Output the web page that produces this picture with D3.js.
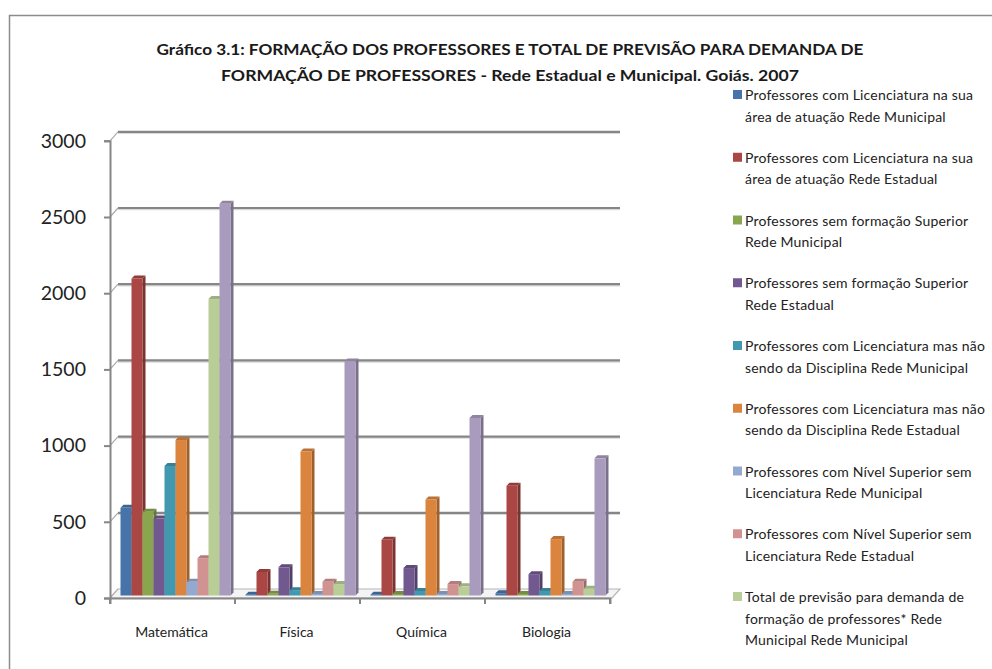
<!DOCTYPE html>
<html><head><meta charset="utf-8">
<script src="https://cdn.jsdelivr.net/npm/d3@7"></script>
<style>body{margin:0;background:#fff;overflow:hidden}svg{display:block}</style>
</head><body>
<svg id="c" width="992" height="669"></svg>
<script>
const categories = ["Matemática", "Física", "Química", "Biologia"];
const seriesNames = [
  "Professores com Licenciatura na sua área de atuação Rede Municipal",
  "Professores com Licenciatura na sua área de atuação Rede Estadual",
  "Professores sem formação Superior Rede Municipal",
  "Professores sem formação Superior Rede Estadual",
  "Professores com Licenciatura mas não sendo da Disciplina Rede Municipal",
  "Professores com Licenciatura mas não sendo da Disciplina Rede Estadual",
  "Professores com Nível Superior sem Licenciatura Rede Municipal",
  "Professores com Nível Superior sem Licenciatura Rede Estadual",
  "Total de previsão para demanda de formação de professores* Rede Municipal Rede Municipal",
  "Total de previsão para demanda de formação de professores* Rede Estadual"
];
// values per series, in category order
const licMunicipal    = [575, 5, 5, 15];
const licEstadual     = [2080, 155, 365, 720];
const semSupMunicipal = [550, 12, 10, 10];
const semSupEstadual  = [505, 185, 180, 140];
const naoDiscMunicipal= [850, 35, 30, 30];
const naoDiscEstadual = [1020, 945, 630, 370];
const nivSupMunicipal = [90, 10, 10, 10];
const nivSupEstadual  = [245, 90, 75, 90];
const totalMunicipal  = [1945, 75, 60, 45];
const totalEstadual   = [2570, 1535, 1165, 900];
const seriesValues = [licMunicipal, licEstadual, semSupMunicipal, semSupEstadual,
  naoDiscMunicipal, naoDiscEstadual, nivSupMunicipal, nivSupEstadual, totalMunicipal, totalEstadual];
const yTicks = [0, 500, 1000, 1500, 2000, 2500, 3000];
const titleLines = [
  "Gráfico 3.1: FORMAÇÃO DOS PROFESSORES E TOTAL DE PREVISÃO PARA DEMANDA DE",
  "FORMAÇÃO DE PROFESSORES - Rede Estadual e Municipal. Goiás. 2007"
];
const legendLines = [
  ["Professores com Licenciatura na sua", "área de atuação Rede Municipal"],
  ["Professores com Licenciatura na sua", "área de atuação Rede Estadual"],
  ["Professores sem formação Superior", "Rede Municipal"],
  ["Professores sem formação Superior", "Rede Estadual"],
  ["Professores com Licenciatura mas não", "sendo da Disciplina Rede Municipal"],
  ["Professores com Licenciatura mas não", "sendo da Disciplina Rede Estadual"],
  ["Professores com Nível Superior sem", "Licenciatura Rede Municipal"],
  ["Professores com Nível Superior sem", "Licenciatura Rede Estadual"],
  ["Total de previsão para demanda de", "formação de professores* Rede", "Municipal Rede Municipal"]
];
const colors = ["#4674AA", "#AA4643", "#89A54E", "#71588F", "#4198AF", "#DB843D", "#93A9CF", "#D19392", "#B9CD96", "#A99BBD"];

const svg = d3.select("#c");
const FONT = "Lato, 'Open Sans', sans-serif";
const axisCol = "#868686";

// outer frame
svg.append("path").attr("d", "M9.5,669 L9.5,15.5 L992,15.5").attr("fill", "none").attr("stroke", "#8c8c8c").attr("stroke-width", 1.5);

// title
svg.append("g").selectAll("text").data(titleLines).join("text")
  .attr("x", 510).attr("y", (d, i) => 55 + i * 26)
  .attr("text-anchor", "middle").attr("font-family", FONT).attr("font-weight", "bold")
  .attr("font-size", 14.5).attr("fill", "#1a1a1a")
  .attr("textLength", (d, i) => i === 0 ? 707 : 578).attr("lengthAdjust", "spacingAndGlyphs")
  .text(d => d);

// scales
const x = d3.scaleBand().domain(categories).range([110, 610]).padding(0);
const inner = d3.scaleBand().domain(d3.range(seriesValues.length)).range([7.5, 117.5]).padding(0);
const y = d3.scaleLinear().domain([0, 3000]).range([598, 140.8]);
const DX = 8, DY = 9; // back wall depth offset
const bdx = 3, bdy = 2.5, cap = 3; // bar depth offset and thickness

// gridlines on back wall with diagonal connectors
const grid = svg.append("g");
yTicks.forEach(t => {
  const yy = y(t);
  if (t > 0) {
    grid.append("line").attr("x1", 118).attr("x2", 620).attr("y1", yy - DY + 1.5).attr("y2", yy - DY + 1.5)
      .attr("stroke", "#d9d9d9").attr("stroke-width", 1.5);
    grid.append("line").attr("x1", 118).attr("x2", 620).attr("y1", yy - DY).attr("y2", yy - DY)
      .attr("stroke", axisCol).attr("stroke-width", 2.2);
  }
  grid.append("line").attr("x1", 110).attr("x2", 118).attr("y1", yy).attr("y2", yy - DY)
    .attr("stroke", "#aaa").attr("stroke-width", 1.2);
});

// floor
const fl = svg.append("g");
fl.append("path").attr("d", `M110,598 L118,${598 - DY} L620,${598 - DY} L612,598 Z`)
  .attr("fill", "#f4f4f4").attr("stroke", "#b5b5b5").attr("stroke-width", 1.2);

// y axis
const yAxis = d3.axisLeft(y).tickValues(yTicks).tickSize(6).tickPadding(18).tickFormat(d3.format("d"));
const ya = svg.append("g").attr("transform", "translate(110,0)").call(yAxis);
ya.select(".domain").attr("stroke", axisCol).attr("stroke-width", 2);
ya.selectAll(".tick line").attr("stroke", axisCol).attr("stroke-width", 2);
ya.selectAll(".tick text").attr("font-family", FONT).attr("font-size", 19.5).attr("fill", "#222");

// bars
const bars = svg.append("g");
categories.forEach((c, ci) => {
  seriesValues.forEach((vals, si) => {
    const v = vals[ci];
    const x0 = x(c) + inner(si) + bdx;
    const w = inner.bandwidth();
    const base = y(0) - bdy;
    const top = y(v) - bdy;
    const col = d3.color(colors[si]);
    const g = bars.append("g");
    // side
    g.append("path").attr("d", `M${x0 + w},${top} L${x0 + w + cap},${top - cap} L${x0 + w + cap},${base - cap} L${x0 + w},${base} Z`)
      .attr("fill", col.darker(0.9));
    // top
    g.append("path").attr("d", `M${x0},${top} L${x0 + cap},${top - cap} L${x0 + w + cap},${top - cap} L${x0 + w},${top} Z`)
      .attr("fill", col.darker(0.45));
    // front
    g.append("rect").attr("x", x0).attr("y", top).attr("width", w).attr("height", Math.max(0, base - top))
      .attr("fill", col);
  });
});

// x axis
const xAxis = d3.axisBottom(x).tickSize(6).tickSizeOuter(6).tickFormat("");
const xa = svg.append("g").attr("transform", "translate(0,598)").call(xAxis);
xa.select(".domain").attr("stroke", axisCol).attr("stroke-width", 2);
xa.selectAll(".tick line").remove();
xa.selectAll(".tk").data(d3.range(categories.length + 1)).join("line")
  .attr("x1", i => 110 + i * x.step()).attr("x2", i => 110 + i * x.step())
  .attr("y1", 0).attr("y2", 6).attr("stroke", axisCol).attr("stroke-width", 2);
svg.append("g").selectAll("text").data(categories).join("text")
  .attr("x", d => x(d) + x.bandwidth() / 2 - 1).attr("y", 637)
  .attr("text-anchor", "middle").attr("font-family", FONT).attr("font-size", 14).attr("fill", "#222")
  .text(d => d);

// legend
const lg = svg.append("g");
legendLines.forEach((lines, i) => {
  const y0 = 99 + i * 62.75;
  lg.append("rect").attr("x", 733).attr("y", y0 - 9).attr("width", 9).attr("height", 9).attr("fill", colors[i]);
  lines.forEach((t, j) => {
    lg.append("text").attr("x", 745).attr("y", y0 + j * 21.5 + 1)
      .attr("font-family", FONT).attr("font-size", 14).attr("letter-spacing", 0.2).attr("fill", "#222").text(t);
  });
});
</script>
</body></html>
